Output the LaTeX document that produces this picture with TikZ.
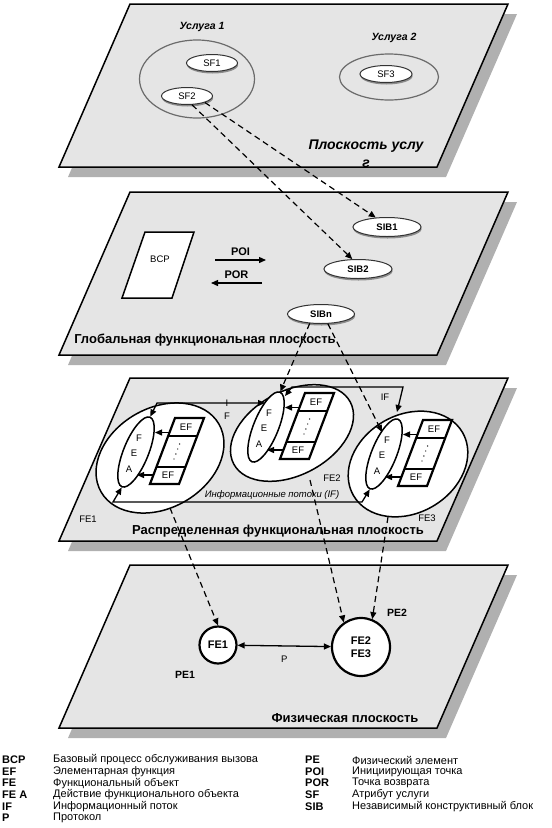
\documentclass[tikz,border=0pt]{standalone}
\usepackage{fontspec}
\setmainfont{Liberation Sans}
\usetikzlibrary{arrows.meta,shapes.geometric,shadows}
\tikzset{
    %Define standard arrow tip
    >={Triangle[length=7pt,width=6pt]},
    %Define style for planes
    plosk/.style={
           fill=black!10,
           draw=black, line width=1.5pt},
    ten/.style={fill=black!31},
    %Define styles for ellipses
    grp/.style={
           ellipse,
           draw=black!58, line width=1.2pt,
           inner sep=0pt},
    atr/.style={
           ellipse,
           draw=black!80, line width=1pt,
           fill=white,
           inner sep=0pt,
           minimum width=51pt,
           minimum height=17pt,
           font=\fontsize{9.5}{11}\selectfont,
           drop shadow={shadow xshift=0.6pt, shadow yshift=-2pt, fill=black!45, opacity=1}},
    sib/.style={
           atr,
           minimum width=68pt,
           minimum height=19pt,
           font=\fontsize{9.5}{11}\selectfont\bfseries},
    fe/.style={ellipse, draw, line width=1.5pt, fill=white, inner sep=0pt},
    fea/.style={
           ellipse, draw, line width=1.5pt, fill=white, inner sep=0pt,
           minimum width=25pt, minimum height=75pt, rotate=-22},
    kol/.style={draw, line width=2.2pt, fill=white},
    krug/.style={
           circle, draw, line width=2.2pt, fill=white, inner sep=0pt,
           font=\fontsize{11}{12.5}\selectfont\bfseries},
    %Define arrow styles
    pil/.style={->, line width=1.3pt},
    strih/.style={->, line width=1.2pt, dash pattern=on 6pt off 4pt},
    %Define text styles
    zag/.style={font=\fontsize{13}{15}\selectfont\bfseries},
    kod/.style={font=\fontsize{10.5}{12}\selectfont\bfseries, inner sep=1pt},
    tekst/.style={font=\fontsize{9.5}{13}\selectfont, inner sep=1pt},
    leg/.style={font=\fontsize{11}{12}\selectfont, anchor=west, inner sep=0pt},
    legk/.style={leg, font=\fontsize{11}{12}\selectfont\bfseries}
}

\begin{document}
\begin{tikzpicture}[x=1pt, y=-1pt]
\useasboundingbox (0,0) rectangle (552,828);

% planes
\foreach \t in {4,192,378,565}{
  \fill[ten] (139,\t+10) -- ++(378,0) -- ++(-71,163) -- ++(-378,0) -- cycle;
  \draw[plosk] (130,\t) -- ++(378,0) -- ++(-71,163) -- ++(-378,0) -- cycle;
}

% service plane
\node[font=\fontsize{10.5}{12}\selectfont\bfseries\itshape] (usl1) at (202,27) {Услуга 1};
\node[font=\fontsize{10.5}{12}\selectfont\bfseries\itshape] (usl2) at (394,38) {Услуга 2};
\node[grp, minimum width=115pt, minimum height=78pt] (gr1) at (197,79) {};
\node[grp, minimum width=99pt, minimum height=46pt] (gr2) at (389,77) {};
\node[atr] (sf1) at (212,63) {SF1};
\node[atr] (sf2) at (187,96) {SF2};
\node[atr, minimum width=52pt] (sf3) at (386,74) {SF3};
\node[font=\fontsize{14}{18}\selectfont\bfseries\itshape, align=center] (pu) at (366,154) {Плоскость услу\\г};

% global functional plane
\draw[kol, line width=1.5pt] (145,232) -- (194,232) -- (172,298) -- (122,298) -- cycle;
\node[tekst] (bcp) at (160,259) {BCP};
\coordinate (poi1) at (215,260);
\coordinate (poi2) at (266,260);
\draw[pil] (poi1) -- node[kod, above=3pt, font=\fontsize{11}{12}\selectfont\bfseries] (poi) {POI} (poi2);
\coordinate (por1) at (262,283);
\coordinate (por2) at (211,283);
\draw[pil] (por1) -- node[kod, above=3pt, font=\fontsize{11}{12}\selectfont\bfseries] (por) {POR} (por2);
\node[sib] (sib1) at (387,227) {SIB1};
\node[sib] (sib2) at (358,269) {SIB2};
\node[sib, minimum width=67pt] (sibn) at (321,314) {SIBn};
\node[zag] (gfp) at (205,340) {Глобальная функциональная плоскость};

% distributed functional plane
\node[fe, minimum width=136pt, minimum height=100pt, rotate=30] (fe1) at (160,458) {};
\node[fe, minimum width=132pt, minimum height=84pt, rotate=28] (fe2) at (292,433) {};
\node[fe, minimum width=126pt, minimum height=98pt, rotate=30] (fe3) at (408,464) {};
\node[tekst] (fe1t) at (88,519) {FE1};
\node[tekst] (fe2t) at (332,478) {FE2};
\node[tekst] (fe3t) at (427,518) {FE3};

\foreach \x/\y/\n in {175/418/1,305/393/2,423/420/3}{
  \begin{scope}[shift={(\x,\y)}]
    \node[fea] (fea\n) at (-39,34) {};
    \node[tekst] (fb\n) at (-36,20) {F};
    \node[tekst] (eb\n) at (-41,35) {E};
    \node[tekst] (ab\n) at (-46,51) {A};
    \draw[kol] (0,0) -- (29,0) -- (4,66) -- (-25,66) -- cycle;
    \draw[line width=1.5pt] (-6.8,18) -- (22.2,18);
    \draw[line width=1.5pt] (-18.6,49) -- (10.4,49);
    \node[tekst] (eft\n) at (11,9) {EF};
    \node[tekst] (efb\n) at (-7,57.5) {EF};
    \foreach \d in {26,31,36,41}
      \fill (14.5-0.379*\d,\d) circle (0.7);
    \coordinate (ka\n) at (-5.5,14.5);
    \coordinate (kb\n) at (-20,14.5);
    \coordinate (kc\n) at (-21.5,57);
    \coordinate (kd\n) at (-38,57);
    \draw[pil] (ka\n) -- (kb\n);
    \draw[pil] (kc\n) -- (kd\n);
  \end{scope}
}

\coordinate (ifa) at (157,403);
\coordinate (ifb) at (265,403);
\draw[pil, <->] (fea1.north) -- (ifa) -- (ifb);
\node[tekst, align=center] (ifl1) at (227,410) {I\\F};
\coordinate (ifc) at (285,396);
\coordinate (ifd) at (397,412);
\draw[pil, <->] (ifc) -- (292,387) -- (403,387) -- (ifd);
\node[tekst] (ifl2) at (385,397) {IF};
\draw[pil, <->] (fea1.south) -- (113,502) -- (362,502) -- (fea3.south);
\node[font=\fontsize{9.5}{11}\selectfont\itshape] (ifl3) at (272,495) {Информационные потоки (IF)};
\node[zag] (rfp) at (278,531) {Распределенная функциональная плоскость};

% physical plane
\node[krug, minimum size=37pt] (phy1) at (218,645) {FE1};
\node[krug, minimum size=58pt, align=center] (phy23) at (361,647) {FE2\\FE3};
\draw[pil, <->] (phy1) -- node[tekst, below=8pt] (p) {P} (phy23);
\node[kod] (pe1) at (185,675) {PE1};
\node[kod] (pe2) at (397,613) {PE2};
\node[zag] (fp) at (345,718) {Физическая плоскость};

% dashed links between planes
\draw[strih] (sf2.-20) -- (sib1.140);
\draw[strih] (sf2.-60) -- (sib2.120);
\coordinate (fea3w) at (382,432);
\draw[strih] (sibn.-140) -- (fea2.north);
\draw[strih] (sibn.-55) -- (fea3w);
\coordinate (fe1s) at (170,508);
\coordinate (fe2s) at (310,480);
\coordinate (fe3s) at (388,517);
\draw[strih] (fe1s) -- (phy1.north);
\draw[strih] (fe2s) -- (phy23.125);
\draw[strih] (fe3s) -- (phy23.68);

% legend
\foreach \a/\b [count=\i from 0] in {BCP/Базовый процесс обслуживания вызова, EF/Элементарная функция, FE/Функциональный объект, FE A/Действие функционального объекта, IF/Информационный поток, P/Протокол}{
  \node[legk] (lk\i) at (2,760+11.6*\i) {\a};
  \node[leg] (lo\i) at (53,760+11.6*\i) {\b};
}
\foreach \a/\b [count=\i from 0] in {PE/Физический элемент, POI/Инициирующая точка, POR/Точка возврата, SF/Атрибут услуги, SIB/Независимый конструктивный блок}{
  \node[legk] (rk\i) at (305,760+11.6*\i) {\a};
  \node[leg] (ro\i) at (352,760+11.6*\i) {\b};
}
\end{tikzpicture}
\end{document}
